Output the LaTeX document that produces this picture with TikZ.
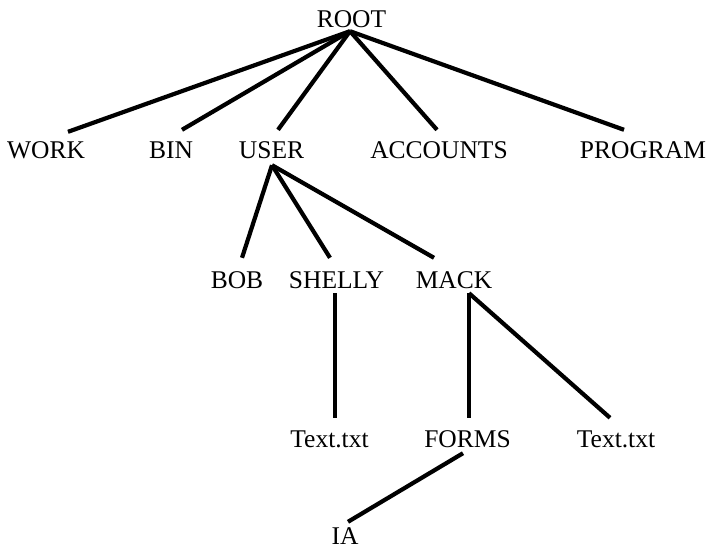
\documentclass[tikz,border=0pt]{standalone}
\usepackage{fontspec}
\setmainfont{Liberation Serif}
\begin{document}
\begin{tikzpicture}[x=1pt,y=-1pt,
  lbl/.style={inner sep=0pt, anchor=base, font=\fontsize{25.5}{30}\selectfont, text height=17pt, text depth=0pt},
  link/.style={line width=4.2pt, line cap=butt}]
\useasboundingbox (0,0) rectangle (711,549);
% labels
\node[lbl] (root) at (351.5,27) {ROOT};
\node[lbl] (work) at (46,158) {WORK};
\node[lbl] (bin) at (171,158) {BIN};
\node[lbl] (user) at (271.5,158) {USER};
\node[lbl] (accounts) at (439,158) {ACCOUNTS};
\node[lbl] (program) at (643,158) {PROGRAM};
\node[lbl] (bob) at (237,288) {BOB};
\node[lbl] (shelly) at (336.5,288) {SHELLY};
\node[lbl] (mack) at (454,288) {MACK};
\node[lbl] (txta) at (329.5,447) {Text.txt};
\node[lbl] (forms) at (467.5,447) {FORMS};
\node[lbl] (txtb) at (616,447) {Text.txt};
\node[lbl] (ia) at (345,544) {IA};
% hubs
\coordinate (rhub) at ([xshift=-1.5pt,yshift=-4pt]root.south);
\coordinate (uhub) at ([xshift=0.5pt,yshift=-7pt]user.south);
\coordinate (mhub) at ([xshift=15pt,yshift=-5pt]mack.south);
% connectors
\draw[link] (rhub) -- ([xshift=22pt,yshift=9pt]work.north);
\draw[link] (rhub) -- ([xshift=11pt,yshift=11pt]bin.north);
\draw[link] (rhub) -- ([xshift=6.5pt,yshift=11pt]user.north);
\draw[link] (rhub) -- ([xshift=-2pt,yshift=11pt]accounts.north);
\draw[link] (rhub) -- ([xshift=-19pt,yshift=11pt]program.north);
\draw[link] (uhub) -- ([xshift=5pt,yshift=13pt]bob.north);
\draw[link] (uhub) -- ([xshift=-6.5pt,yshift=13pt]shelly.north);
\draw[link] (uhub) -- ([xshift=-20pt,yshift=13pt]mack.north);
\draw[link] ([xshift=-1.5pt,yshift=-5pt]shelly.south) -- ([xshift=5.5pt,yshift=12pt]txta.north);
\draw[link] (mhub) -- ([xshift=1.5pt,yshift=12pt]forms.north);
\draw[link] (mhub) -- ([xshift=-6pt,yshift=12pt]txtb.north);
\draw[link] ([xshift=-4.5pt,yshift=-6pt]forms.south) -- ([xshift=3pt,yshift=5pt]ia.north);
\end{tikzpicture}
\end{document}
